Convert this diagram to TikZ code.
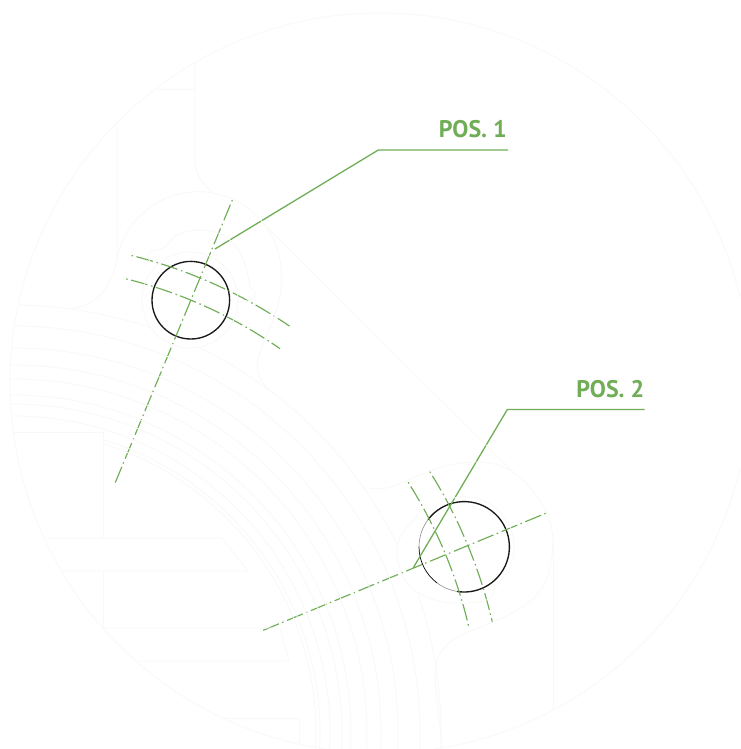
\documentclass[tikz,border=0pt]{standalone}
\usepackage{fontspec}
\setmainfont{PT Sans}
\definecolor{leafgreen}{HTML}{70AD57}
\definecolor{ghost}{HTML}{F8F9F7}
\tikzset{
  centerline/.style={draw=leafgreen,line width=1.15pt,dash pattern=on 1.5pt off 3.5pt on 17pt off 3.8pt},
  leader/.style={draw=leafgreen,line width=1.3pt,line join=miter},
  poslabel/.style={text=leafgreen,font=\bfseries\fontsize{24}{24}\selectfont,anchor=base east,inner sep=0pt},
  holeedge/.style={draw=black!90,line width=1.35pt},
  holethin/.style={draw=black,line width=0.7pt},
  holefade/.style={draw=black!45,line width=0.6pt},
  faint/.style={draw=ghost,line width=0.8pt}
}
\begin{document}
\begin{tikzpicture}[x=1pt,y=1pt,yscale=-1]
\clip (0,0) rectangle (740,749);
\fill[white] (0,0) rectangle (740,749);
\coordinate (hub) at (13,733);
% holes
\coordinate (holeA) at (190.8,300.2);
\coordinate (holeB) at (464.2,546.8);
\draw[holeedge] (holeA) circle[radius=38.8pt];
\draw[holeedge] (holeB) ++(217:45.2) arc[start angle=217,end angle=459,radius=45.2pt];
\draw[holefade] (holeB) ++(99:45.2) arc[start angle=99,end angle=127,radius=45.2pt];
\draw[holethin] (holeB) ++(127:45.2) arc[start angle=127,end angle=180,radius=45.2pt];
\draw[holefade] (holeB) ++(180:45.2) arc[start angle=180,end angle=217,radius=45.2pt];
% centre lines
\coordinate (radAa) at (232.3,200);
\coordinate (radAb) at (115,483.3);
\coordinate (radBa) at (545.7,513.3);
\coordinate (radBb) at (262.3,630.7);
\draw[centerline] (radAa) -- (radAb);
\draw[centerline] (radBa) -- (radBb);
\draw[centerline] (hub) ++(-76.05:492) arc[start angle=-76.05,end angle=-55.8,radius=492pt];
\draw[centerline] (hub) ++(-76:468) arc[start angle=-76,end angle=-55.2,radius=468pt];
\draw[centerline] (hub) ++(-32.4:468) arc[start angle=-32.4,end angle=-12.85,radius=468pt];
\draw[centerline] (hub) ++(-32.1:492) arc[start angle=-32.1,end angle=-13,radius=492pt];
% leaders and labels
\node[poslabel] (posA) at (507,137.3) {POS. 1};
\node[poslabel] (posB) at (644.5,397.7) {POS. 2};
\coordinate (endA) at (508,150);
\coordinate (kneeA) at (378.3,150);
\coordinate (tipA) at (215,249);
\coordinate (endB) at (644.5,409.5);
\coordinate (kneeB) at (507.3,409.5);
\coordinate (tipB) at (413.3,567.7);
\draw[leader] (endA) -- (kneeA) -- (tipA);
\draw[leader] (endB) -- (kneeB) -- (tipB);
% faint background drawing
\begin{scope}
\clip (380,383) circle[radius=370pt];
\foreach \r in {317,329,338,354,368,385,407}{
  \draw[faint] (hub) ++(-92:\r) arc[start angle=-92,end angle=6,radius=\r pt];
}
\draw[faint] (hub) ++(-72.7:303) arc[start angle=-72.7,end angle=5,radius=303pt];
\draw[faint] (hub) ++(-73:307) arc[start angle=-73,end angle=5,radius=307pt];
\draw[faint] (hub) ++(-92:428) arc[start angle=-92,end angle=-71.3,radius=428pt];
\draw[faint] (hub) ++(-64:428) arc[start angle=-64,end angle=-25.7,radius=428pt];
\draw[faint] (hub) ++(-18.9:428) arc[start angle=-18.9,end angle=5,radius=428pt];
\end{scope}
\draw[faint] (380,383) circle[radius=370pt];
% boss at position 1
\draw[faint] (195,63) -- (195,160) .. controls (195,175) and (205,188) .. (217,195);
\draw[faint] (157,89) -- (195,89);
\draw[faint] (117,125) -- (117,258) .. controls (112,285) and (100,305) .. (73,308);
\draw[faint] (117,258) ++(0,0) arc[start angle=191.6,end angle=361,radius=83pt]
  .. controls (283,310) and (262,340) .. (258,360) .. controls (256,372) and (260,380) .. (267,388);
\draw[faint] (150,262) .. controls (146,254) and (150,250) .. (155,250) .. controls (165,250) and (168,244) .. (173,238)
  .. controls (185,228) and (215,226) .. (230,240) .. controls (242,250) and (248,270) .. (250,287)
  .. controls (252,289) and (256,291) .. (255,295) .. controls (254,298) and (250,300) .. (238,302);
\draw[faint] (190,300) circle[radius=48pt];
\draw[faint] (267,227) -- (513,472);
% boss at position 2
\draw[faint] (370,488) .. controls (385,491) and (395,486) .. (420,475) .. controls (450,461) and (490,456) .. (513,472)
  .. controls (535,488) and (553,515) .. (553,542) .. controls (553,555) and (550,565) .. (548,575)
  .. controls (540,600) and (520,610) .. (497,620) .. controls (475,630) and (460,634) .. (450,642)
  .. controls (436,654) and (434,668) .. (435,680) -- (442,745);
\draw[faint] (553,542) -- (553,710);
\draw[faint] (417,507) .. controls (420,510) and (418,516) .. (414,520) .. controls (405,528) and (397,538) .. (397,550)
  .. controls (397,570) and (405,585) .. (417,592) .. controls (430,600) and (445,604) .. (460,603)
  .. controls (475,603) and (488,602) .. (492,596) .. controls (496,590) and (494,585) .. (492,584);
\draw[faint] (holeB) ++(-110:50) arc[start angle=-110,end angle=50,radius=50pt];
% teeth
\draw[faint] (13,432) -- (103,432) -- (103,538);
\draw[faint] (45,538) -- (222,538) -- (248,571) -- (62,571);
\draw[faint] (103,571) -- (103,628);
\draw[faint] (103,628) -- (280,628) -- (289,661) -- (138,661);
\draw[faint] (225,718) -- (299,718) -- (299,744);
\end{tikzpicture}
\end{document}
